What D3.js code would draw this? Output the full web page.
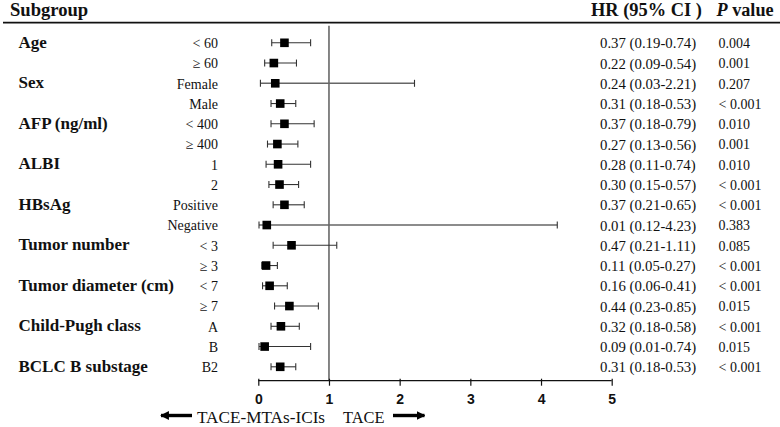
<!DOCTYPE html>
<html>
<head>
<meta charset="utf-8">
<script src="https://cdn.jsdelivr.net/npm/d3@7"></script>
<style>
  html, body { margin: 0; padding: 0; background: #fff; }
  svg { display: block; }
</style>
</head>
<body>
<svg id="chart" width="780" height="427"></svg>
<script>
// ---- data ----
const groups = ["Age", "Sex", "AFP (ng/ml)", "ALBI", "HBsAg", "Tumor number", "Tumor diameter (cm)", "Child-Pugh class", "BCLC B substage"];
const groupRow = [0, 2, 4, 6, 8, 10, 12, 14, 16];
const subgroups = ["< 60", "\u2265 60", "Female", "Male", "< 400", "\u2265 400", "1", "2", "Positive", "Negative", "< 3", "\u2265 3", "< 7", "\u2265 7", "A", "B", "B2"];
const hr  = [0.37, 0.22, 0.24, 0.31, 0.37, 0.27, 0.28, 0.30, 0.37, 0.12, 0.47, 0.11, 0.16, 0.44, 0.32, 0.09, 0.31];
const lo  = [0.19, 0.09, 0.03, 0.18, 0.18, 0.13, 0.11, 0.15, 0.21, 0.01, 0.21, 0.05, 0.06, 0.23, 0.18, 0.01, 0.18];
const hi  = [0.74, 0.54, 2.21, 0.53, 0.79, 0.56, 0.74, 0.57, 0.65, 4.23, 1.11, 0.27, 0.41, 0.85, 0.58, 0.74, 0.53];
const hrText = ["0.37 (0.19-0.74)", "0.22 (0.09-0.54)", "0.24 (0.03-2.21)", "0.31 (0.18-0.53)", "0.37 (0.18-0.79)", "0.27 (0.13-0.56)", "0.28 (0.11-0.74)", "0.30 (0.15-0.57)", "0.37 (0.21-0.65)", "0.01 (0.12-4.23)", "0.47 (0.21-1.11)", "0.11 (0.05-0.27)", "0.16 (0.06-0.41)", "0.44 (0.23-0.85)", "0.32 (0.18-0.58)", "0.09 (0.01-0.74)", "0.31 (0.18-0.53)"];
const pText = ["0.004", "0.001", "0.207", "< 0.001", "0.010", "0.001", "0.010", "< 0.001", "< 0.001", "0.383", "0.085", "< 0.001", "< 0.001", "0.015", "< 0.001", "0.015", "< 0.001"];
const xTicks = [0, 1, 2, 3, 4, 5];
const leftArrowLabel = "TACE-MTAs-ICIs";
const rightArrowLabel = "TACE";

// ---- layout ----
const svg = d3.select("#chart");
const serif = "'Liberation Serif', 'Times New Roman', serif";
const sans = "'Liberation Sans', Arial, sans-serif";

const x = d3.scaleLinear().domain([0, 5]).range([258.3, 611.7]);
const y = d3.scalePoint().domain(d3.range(subgroups.length)).range([42.8, 366.8]);
const axisY = 380.7;

// headers
svg.append("text").attr("x", 10).attr("y", 16).attr("font-family", serif)
  .attr("font-weight", "bold").attr("font-size", 18.6).attr("fill", "#111").text("Subgroup");
svg.append("text").attr("x", 591).attr("y", 16).attr("font-family", serif)
  .attr("font-weight", "bold").attr("font-size", 18.4).attr("fill", "#111").text("HR (95% CI )");
const pv = svg.append("text").attr("x", 716.5).attr("y", 16).attr("font-family", serif)
  .attr("font-weight", "bold").attr("font-size", 18.2).attr("fill", "#111");
pv.append("tspan").attr("font-style", "italic").text("P");
pv.append("tspan").text(" value");

svg.append("line").attr("x1", 3).attr("x2", 780).attr("y1", 22.7).attr("y2", 22.7)
  .attr("stroke", "#111").attr("stroke-width", 1.8);

// group labels
svg.selectAll("text.group").data(groups).join("text").attr("class", "group")
  .attr("x", 18.5).attr("y", (d, i) => y(groupRow[i]) - 1)
  .attr("dy", "0.35em").attr("font-family", serif).attr("font-weight", "bold")
  .attr("font-size", 17).attr("fill", "#111").text(d => d);

// subgroup labels
svg.selectAll("text.sub").data(subgroups).join("text").attr("class", "sub")
  .attr("x", 218).attr("y", (d, i) => y(i) + 0.5).attr("dy", "0.35em")
  .attr("text-anchor", "end").attr("font-family", serif).attr("font-size", 14)
  .attr("fill", "#111").text(d => d);

// reference line at HR = 1
svg.append("line").attr("x1", x(1)).attr("x2", x(1)).attr("y1", 25.7).attr("y2", axisY)
  .attr("stroke", "#222").attr("stroke-width", 1.1);

// whiskers
const rows = subgroups.map((s, i) => ({ i, hr: hr[i], lo: lo[i], hi: hi[i] }));
const g = svg.append("g");
g.selectAll("line.ci").data(rows).join("line").attr("class", "ci")
  .attr("x1", d => x(d.lo)).attr("x2", d => x(d.hi))
  .attr("y1", d => y(d.i)).attr("y2", d => y(d.i))
  .attr("stroke", d => d.hi > 1.5 ? "#666" : "#333").attr("stroke-width", d => d.hi > 1.5 ? 1.4 : 1.1);
g.selectAll("line.capL").data(rows).join("line").attr("class", "capL")
  .attr("x1", d => x(d.lo)).attr("x2", d => x(d.lo))
  .attr("y1", d => y(d.i) - 3.5).attr("y2", d => y(d.i) + 3.5)
  .attr("stroke", "#333").attr("stroke-width", 1.1);
g.selectAll("line.capH").data(rows).join("line").attr("class", "capH")
  .attr("x1", d => x(d.hi)).attr("x2", d => x(d.hi))
  .attr("y1", d => y(d.i) - 3.5).attr("y2", d => y(d.i) + 3.5)
  .attr("stroke", "#333").attr("stroke-width", 1.1);
const ms = 8.6;
g.selectAll("rect.pt").data(rows).join("rect").attr("class", "pt")
  .attr("x", d => x(d.hr) - ms / 2).attr("y", d => y(d.i) - ms / 2)
  .attr("width", ms).attr("height", ms).attr("fill", "#000");

// right columns
svg.selectAll("text.hr").data(hrText).join("text").attr("class", "hr")
  .attr("x", 600).attr("y", (d, i) => y(i) + 0.5).attr("dy", "0.35em")
  .attr("font-family", serif).attr("font-size", 14.8).attr("fill", "#111").text(d => d);
svg.selectAll("text.p").data(pText).join("text").attr("class", "p")
  .attr("x", 718.5).attr("y", (d, i) => y(i) + 0.5).attr("dy", "0.35em")
  .attr("font-family", serif).attr("font-size", 14).attr("fill", "#111").text(d => d);

// x axis
const axis = d3.axisBottom(x).tickValues(xTicks).tickSize(5).tickFormat(d3.format("d"));
const ax = svg.append("g").attr("transform", `translate(0,${axisY})`).call(axis);
ax.select(".domain").attr("stroke", "#111").attr("stroke-width", 1.2).attr("d", `M${x(0)},0H${x(5)}`);
ax.selectAll(".tick line").attr("stroke", "#111").attr("stroke-width", 1.2).attr("y1", -2);
ax.selectAll(".tick text").attr("font-family", sans).attr("font-weight", "bold")
  .attr("font-size", 14).attr("fill", "#111").attr("y", 13);

// direction arrows
const defs = svg.append("defs");
defs.append("marker").attr("id", "ah").attr("viewBox", "0 0 10 10").attr("refX", 9).attr("refY", 5)
  .attr("markerWidth", 2.6).attr("markerHeight", 2.6).attr("markerUnits", "strokeWidth").attr("orient", "auto")
  .append("path").attr("d", "M0,0L10,5L0,10z").attr("fill", "#000");
const arrowY = 415.5;
svg.append("line").attr("x1", 192).attr("x2", 161).attr("y1", arrowY).attr("y2", arrowY)
  .attr("stroke", "#000").attr("stroke-width", 3.4).attr("marker-end", "url(#ah)");
svg.append("line").attr("x1", 393).attr("x2", 424.5).attr("y1", arrowY).attr("y2", arrowY)
  .attr("stroke", "#000").attr("stroke-width", 3.4).attr("marker-end", "url(#ah)");
svg.append("text").attr("x", 197).attr("y", 417).attr("dy", "0.35em")
  .attr("font-family", serif).attr("font-size", 17.2).attr("fill", "#111").text(leftArrowLabel);
svg.append("text").attr("x", 343).attr("y", 417).attr("dy", "0.35em")
  .attr("font-family", serif).attr("font-size", 16.4).attr("fill", "#111").text(rightArrowLabel);
</script>
</body>
</html>
